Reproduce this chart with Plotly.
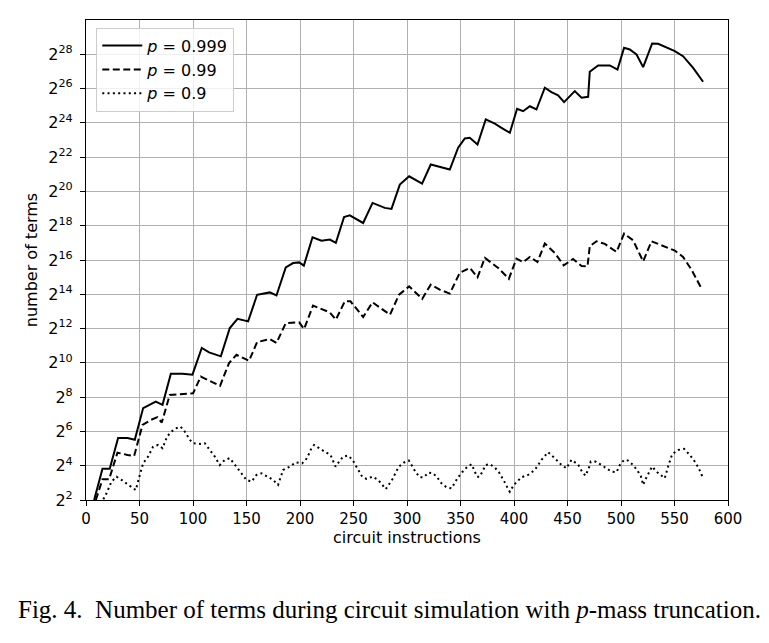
import plotly.graph_objects as go

# ---- data (x = circuit instructions, values given as log2 of number of terms) ----
x_999 = [7.6, 15.4, 22.2, 30.0, 38.8, 45.6, 53.4, 59.0, 65.2, 71.5, 79.3, 90.2, 99.5, 108.2, 115.0, 126.0,
         134.4, 141.6, 151.5, 159.9, 171.8, 178.0, 186.7, 193.6, 199.2, 203.6, 211.7, 220.1, 227.9, 233.5,
         241.2, 246.5, 259.0, 267.8, 279.3, 285.5, 293.3, 302.0, 314.1, 322.2, 332.2, 340.0, 347.8, 354.0,
         358.7, 365.9, 373.6, 382.1, 388.3, 396.1, 402.9, 408.5, 414.8, 421.0, 428.8, 435.0, 441.2, 446.8,
         456.8, 463.1, 469.3, 470.8, 478.6, 489.5, 496.7, 502.9, 508.2, 514.5, 520.7, 529.1, 534.7, 542.5,
         550.3, 558.0, 567.4, 576.7]
log2_999 = [2.0, 3.82, 3.82, 5.61, 5.61, 5.51, 7.36, 7.55, 7.74, 7.55, 9.37, 9.37, 9.31, 10.87, 10.61, 10.38,
            12.03, 12.57, 12.42, 13.97, 14.11, 13.93, 15.57, 15.82, 15.86, 15.67, 17.33, 17.13, 17.19, 17.0,
            18.51, 18.61, 18.16, 19.33, 19.04, 18.98, 20.4, 20.88, 20.45, 21.57, 21.42, 21.28, 22.55, 23.09,
            23.13, 22.74, 24.2, 23.95, 23.71, 23.42, 24.82, 24.68, 24.97, 24.78, 26.05, 25.79, 25.6, 25.21,
            25.85, 25.47, 25.52, 26.98, 27.35, 27.35, 27.11, 28.38, 28.28, 27.99, 27.25, 28.63, 28.61, 28.38,
            28.18, 27.89, 27.21, 26.4]

x_99 = [9.2, 15.4, 21.6, 29.4, 38.8, 45.0, 52.8, 60.6, 66.8, 70.8, 78.3, 90.2, 100.1, 107.3, 116.6, 125.3,
        133.7, 140.7, 152.4, 159.9, 171.8, 178.0, 186.7, 199.2, 203.8, 212.2, 227.9, 233.5, 241.9, 247.2,
        259.0, 267.8, 284.1, 292.6, 302.0, 314.2, 322.2, 330.6, 340.0, 349.3, 358.7, 365.9, 372.8, 385.2,
        395.2, 402.3, 408.5, 414.8, 421.9, 428.8, 438.1, 446.5, 455.2, 463.1, 468.7, 470.8, 477.1, 484.9,
        495.8, 502.9, 511.3, 520.7, 528.5, 539.3, 550.3, 558.0, 565.8, 575.8]
log2_99 = [2.0, 3.21, 3.21, 4.76, 4.63, 4.57, 6.38, 6.67, 6.83, 6.52, 8.13, 8.19, 8.23, 9.2, 8.91, 8.66,
           9.99, 10.47, 10.12, 11.21, 11.39, 11.16, 12.32, 12.36, 11.97, 13.34, 12.94, 12.52, 13.59, 13.59,
           12.67, 13.53, 12.81, 13.98, 14.46, 13.73, 14.56, 14.27, 14.04, 15.25, 15.54, 14.99, 16.12, 15.54,
           14.9, 16.08, 15.87, 16.18, 15.89, 16.96, 16.41, 15.69, 16.06, 15.65, 15.63, 16.8, 17.09, 16.94,
           16.47, 17.54, 17.15, 15.92, 17.09, 16.8, 16.55, 16.18, 15.44, 14.27]

x_9 = [16.2, 19.2, 23.8, 28.5, 33.2, 37.9, 42.5, 46.5, 50.3, 53.4, 58.0, 62.7, 67.4, 71.5, 75.8, 79.9,
       84.6, 88.3, 92.3, 97.0, 100.1, 106.4, 111.0, 115.7, 120.4, 125.0, 129.7, 134.4, 139.1, 145.3, 150.0,
       154.7, 159.3, 164.0, 170.2, 174.9, 179.5, 184.2, 190.5, 196.1, 202.0, 205.4, 208.2, 210.7, 213.2,
       218.5, 223.8, 228.5, 230.4, 233.2, 236.6, 240.3, 245.0, 249.1, 252.2, 255.0, 258.1, 262.1, 267.8,
       273.0, 276.7, 280.2, 283.9, 287.0, 289.5, 292.6, 297.0, 301.7, 305.1, 308.2, 312.0, 315.7, 320.1,
       324.4, 328.5, 332.2, 336.9, 341.6, 344.7, 347.8, 351.5, 355.6, 360.3, 362.7, 365.5, 368.0, 370.6,
       373.6, 377.4, 382.1, 386.1, 389.8, 392.3, 394.5, 396.1, 399.8, 407.0, 413.2, 419.4, 425.7, 431.9,
       438.1, 444.4, 449.1, 453.7, 459.9, 463.6, 466.8, 469.9, 471.7, 476.2, 481.7, 486.4, 491.1, 495.8,
       498.9, 502.9, 506.6, 511.3, 515.0, 518.5, 520.7, 522.9, 526.0, 529.1, 533.2, 537.2, 540.9, 544.0,
       547.8, 553.4, 559.0, 564.3, 569.0, 572.7, 576.1]
log2_9 = [2.04, 2.39, 3.07, 3.36, 3.17, 2.98, 2.78, 2.58, 3.46, 4.14, 4.53, 5.11, 5.21, 5.02, 5.7, 5.99,
          6.19, 6.28, 5.99, 5.51, 5.31, 5.27, 5.31, 4.92, 4.53, 4.04, 4.34, 4.44, 4.04, 3.56, 3.17,
          3.07, 3.46, 3.56, 3.36, 3.17, 2.88, 3.75, 3.95, 4.2, 4.14, 4.34, 4.67, 5.02, 5.21,
          4.98, 4.79, 4.63, 4.34, 3.95, 4.24, 4.53, 4.59, 4.34, 4.0, 3.65, 3.36, 3.23, 3.36,
          3.17, 2.88, 2.64, 2.98, 3.27, 3.62, 3.95, 4.18, 4.3, 3.95, 3.62, 3.33, 3.33, 3.6,
          3.56, 3.3, 2.98, 2.74, 2.68, 3.01, 3.33, 3.62, 3.89, 4.09, 3.71, 3.36, 3.36, 3.71,
          4.04, 4.09, 3.89, 3.6, 3.23, 2.93, 2.63, 2.48, 2.88, 3.33, 3.46, 3.75, 4.34, 4.79,
          4.44, 4.04, 3.85, 4.34, 4.07, 3.65, 3.42, 3.85, 4.24, 4.24, 4.04, 3.85, 3.65, 3.62,
          4.04, 4.34, 4.3, 4.04, 3.75, 3.4, 2.88, 3.21, 3.56, 3.95, 3.65, 3.46, 3.27, 3.95,
          4.67, 4.92, 4.98, 4.63, 4.24, 3.85, 3.36]

series_names = ["<i>p</i> = 0.999", "<i>p</i> = 0.99", "<i>p</i> = 0.9"]
x_ticks = list(range(0, 601, 50))
y_exps = list(range(2, 29, 2))

FONT = "DejaVu Sans"

fig = go.Figure()
styles = [("solid", x_999, log2_999), ("7px,3.5px", x_99, log2_99), ("2px,3.3px", x_9, log2_9)]
for name, (dash, xs, es) in zip(series_names, styles):
    fig.add_trace(go.Scatter(
        x=xs, y=[2 ** e for e in es], mode="lines", name=name,
        line=dict(color="black", width=2, dash=dash),
    ))

fig.update_xaxes(
    range=[0, 600], tickmode="array", tickvals=x_ticks, ticktext=[str(v) for v in x_ticks],
    showgrid=True, gridcolor="#b0b0b0", gridwidth=1.2,
    showline=True, linecolor="black", linewidth=1.2, mirror=True,
    ticks="outside", ticklen=5, tickwidth=1, tickcolor="black",
    zeroline=False,
    title=dict(text="circuit instructions", font=dict(family=FONT, size=16, color="black"), standoff=4),
    tickfont=dict(family=FONT, size=15, color="black"),
)
fig.update_yaxes(
    type="log", range=[2 * 0.30103, 30 * 0.30103],
    tickmode="array", tickvals=[2 ** k for k in y_exps], ticktext=[f"2<sup>{k}</sup>" for k in y_exps],
    showgrid=True, gridcolor="#b0b0b0", gridwidth=1.2,
    showline=True, linecolor="black", linewidth=1.2, mirror=True,
    ticks="outside", ticklen=5, tickwidth=1, tickcolor="black",
    zeroline=False, ticklabelstandoff=4,
    title=dict(text="number of terms", font=dict(family=FONT, size=16, color="black"), standoff=6),
    tickfont=dict(family=FONT, size=16, color="black"),
)

fig.add_annotation(
    text="Fig. 4.&nbsp;&nbsp;Number of terms during circuit simulation with <i>p</i>-mass truncation.",
    xref="paper", yref="paper", x=0.4735, y=-0.229, xanchor="center", yanchor="middle",
    showarrow=False, font=dict(family="Liberation Serif", size=25, color="black"),
)

fig.update_layout(
    width=769, height=643,
    margin=dict(l=86, r=41, t=20, b=143),
    paper_bgcolor="white", plot_bgcolor="white",
    showlegend=True,
    legend=dict(
        x=0.016, y=0.984, xanchor="left", yanchor="top",
        bgcolor="rgba(255,255,255,0.8)", bordercolor="#cccccc", borderwidth=1,
        font=dict(family=FONT, size=16, color="black"),
        itemwidth=40,
    ),
    font=dict(family=FONT, color="black"),
)

fig.write_html("out.html")
